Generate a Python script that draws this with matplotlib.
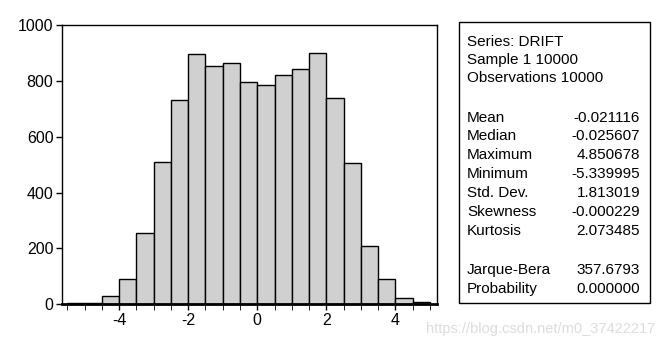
import matplotlib.pyplot as plt
import numpy as np

plt.rcParams['font.family'] = ['Liberation Sans', 'DejaVu Sans']
plt.rcParams['axes.unicode_minus'] = False

# histogram of DRIFT, bins of width 0.5
bin_left = [-5.5, -5.0, -4.5, -4.0, -3.5, -3.0, -2.5, -2.0, -1.5, -1.0, -0.5,
            0.0, 0.5, 1.0, 1.5, 2.0, 2.5, 3.0, 3.5, 4.0, 4.5]
counts = [3, 3, 30, 90, 254, 508, 730, 895, 852, 863, 795,
          784, 820, 841, 899, 737, 507, 210, 90, 21, 7]
bin_width = 0.5

stat_names = ['Mean', 'Median', 'Maximum', 'Minimum', 'Std. Dev.', 'Skewness', 'Kurtosis']
stat_values = ['-0.021116', '-0.025607', '4.850678', '-5.339995', '1.813019', '-0.000229', '2.073485']
test_names = ['Jarque-Bera', 'Probability']
test_values = ['357.6793', '0.000000']
header = ['Series: DRIFT', 'Sample 1 10000', 'Observations 10000']

fig = plt.figure(figsize=(6.65, 3.48), dpi=100)
ax = fig.add_axes([0.0928, 0.1256, 0.5642, 0.8024])

ax.bar(bin_left, counts, width=bin_width, align='edge',
       color='#d0d0d0', edgecolor='black', linewidth=1.0)
ax.set_xlim(-5.66, 5.2)
ax.set_ylim(0, 1000)
ax.set_yticks([0, 200, 400, 600, 800, 1000])
ax.set_xticks([-4, -2, 0, 2, 4])
ax.set_xticks(np.arange(-5.5, 5.01, 0.5), minor=True)
ax.tick_params(axis='both', direction='out', labelsize=11.5, color='black', width=1)
ax.tick_params(axis='x', which='both', length=4, pad=2)
ax.tick_params(axis='y', length=4, pad=2)
for s in ax.spines.values():
    s.set_linewidth(1.0)
ax.spines['bottom'].set_linewidth(2.0)

# statistics box
box = plt.Rectangle((459 / 665, 1 - 303 / 348), (650 - 459) / 665, (303 - 22) / 348,
                    transform=fig.transFigure, fill=False, edgecolor='black', linewidth=1.0)
fig.add_artist(box)

x_left = 467 / 665
x_right = 640 / 665
fs = 11
ys = [41.5, 60, 78.5]
for t, y in zip(header, ys):
    fig.text(x_left, 1 - y / 348, t, fontsize=fs, va='center', ha='left')
for i, (n, v) in enumerate(zip(stat_names, stat_values)):
    y = 117.5 + i * 18.9
    fig.text(x_left, 1 - y / 348, n, fontsize=fs, va='center', ha='left')
    fig.text(x_right, 1 - y / 348, v, fontsize=fs, va='center', ha='right')
for i, (n, v) in enumerate(zip(test_names, test_values)):
    y = 270 + i * 18.8
    fig.text(x_left, 1 - y / 348, n, fontsize=fs, va='center', ha='left')
    fig.text(x_right, 1 - y / 348, v, fontsize=fs, va='center', ha='right')

# watermark
fig.text(655 / 665, 1 - 329 / 348, 'https://blog.csdn.net/m0_37422217', fontsize=10.5,
         color='#dcdcdc', ha='right', va='center')

fig.savefig('out.png', dpi=100)
